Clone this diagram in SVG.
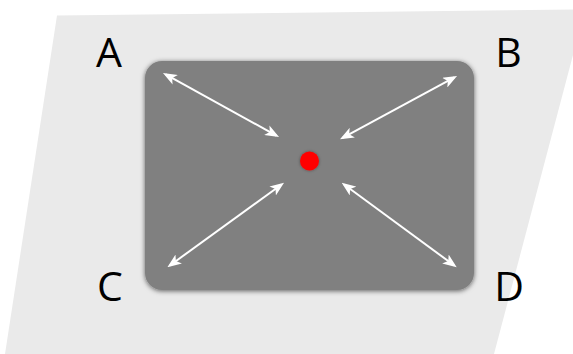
<svg xmlns="http://www.w3.org/2000/svg" width="573" height="354" viewBox="0 0 573 354">
<style>
.lbl{font-family:"Open Sans","Liberation Sans",sans-serif;font-size:41px;font-weight:500;fill:#000;text-anchor:middle}
.arr{stroke:#fff;stroke-width:2;fill:none;marker-start:url(#ah);marker-end:url(#ah)}
</style>
<defs>
<marker id="ah" markerUnits="userSpaceOnUse" viewBox="0 0 14 11" markerWidth="14" markerHeight="11" refX="11" refY="5.5" orient="auto-start-reverse">
<path d="M0,0 L14,5.5 L0,11 L3.5,5.5 z" fill="#fff"/>
</marker>
<filter id="sh" x="-10%" y="-10%" width="120%" height="120%">
<feGaussianBlur in="SourceAlpha" stdDeviation="2.5"/>
<feOffset dy="1" result="b"/>
<feFlood flood-color="#000" flood-opacity="0.6"/>
<feComposite in2="b" operator="in"/>
<feMerge><feMergeNode/><feMergeNode in="SourceGraphic"/></feMerge>
</filter>
<filter id="dsh" x="-50%" y="-50%" width="200%" height="200%">
<feGaussianBlur in="SourceAlpha" stdDeviation="1.5"/>
<feFlood flood-color="#000" flood-opacity="0.4"/>
<feComposite operator="in" in2="SourceAlpha"/>
<feGaussianBlur stdDeviation="1.5"/>
<feMerge><feMergeNode/><feMergeNode in="SourceGraphic"/></feMerge>
</filter>
</defs>
<rect width="573" height="354" fill="#fff"/>
<polygon id="plane" points="57,15.5 573,9.5 585,9.5 494,354 5,354" fill="#eaeaea"/>
<g id="screen"><rect x="145" y="61" width="329" height="229" rx="17" fill="#808080" filter="url(#sh)"/></g>
<g id="center"><circle cx="309.5" cy="161" r="9.5" fill="#ff0000" filter="url(#dsh)"/></g>
<g id="connectors">
<line class="arr" x1="165.6" y1="74.4" x2="276.4" y2="135.6"/>
<line class="arr" x1="454.4" y1="77.4" x2="342.6" y2="137.9"/>
<line class="arr" x1="169.8" y1="265.5" x2="281.6" y2="184.5"/>
<line class="arr" x1="454.3" y1="265.5" x2="344.1" y2="184.5"/>
</g>
<g id="A"><text class="lbl" x="109" y="67">A</text></g>
<g id="B"><text class="lbl" x="508.5" y="67">B</text></g>
<g id="C"><text class="lbl" x="110" y="301">C</text></g>
<g id="D"><text class="lbl" x="509" y="301">D</text></g>
</svg>
